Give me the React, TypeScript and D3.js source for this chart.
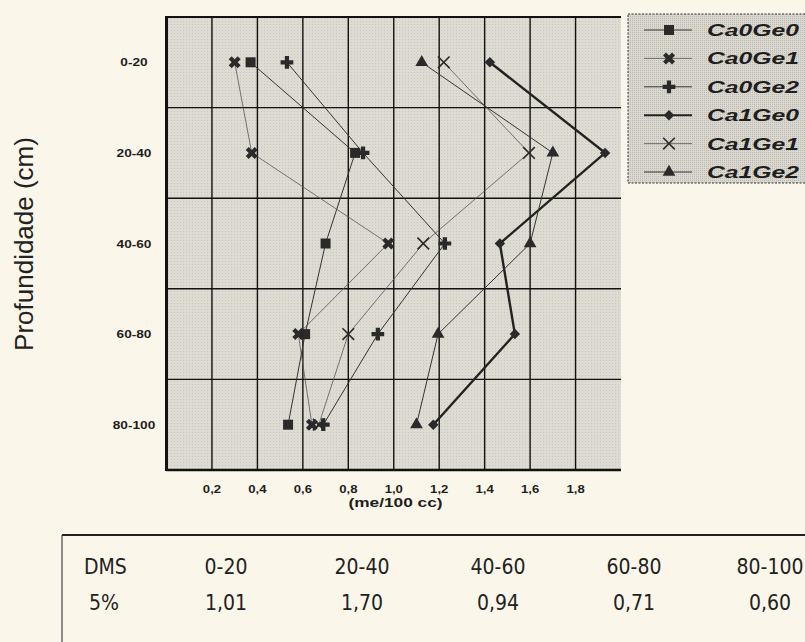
import React from 'react'
import * as d3 from 'd3'

const depths = ['0-20', '20-40', '40-60', '60-80', '80-100']
const xTicks = [0.2, 0.4, 0.6, 0.8, 1.0, 1.2, 1.4, 1.6, 1.8]

const ca0ge0 = [0.37, 0.83, 0.7, 0.61, 0.535]
const ca0ge1 = [0.3, 0.375, 0.976, 0.58, 0.64]
const ca0ge2 = [0.53, 0.865, 1.225, 0.93, 0.69]
const ca1ge0 = [1.423, 1.93, 1.467, 1.533, 1.174]
const ca1ge1 = [1.22, 1.595, 1.13, 0.8, 0.67]
const ca1ge2 = [1.123, 1.7, 1.6, 1.195, 1.1]

const dmsLabels = ['0-20', '20-40', '40-60', '60-80', '80-100']
const dmsValues = ['1,01', '1,70', '0,94', '0,71', '0,60']

const series = [
  { name: 'Ca0Ge0', values: ca0ge0, symbol: 'square', width: 1, color: '#333' },
  { name: 'Ca0Ge1', values: ca0ge1, symbol: 'boldx', width: 0.8, color: '#555' },
  { name: 'Ca0Ge2', values: ca0ge2, symbol: 'plus', width: 1, color: '#333' },
  { name: 'Ca1Ge0', values: ca1ge0, symbol: 'diamond', width: 2.4, color: '#222' },
  { name: 'Ca1Ge1', values: ca1ge1, symbol: 'thinx', width: 0.8, color: '#555' },
  { name: 'Ca1Ge2', values: ca1ge2, symbol: 'triangle', width: 1, color: '#333' },
]

const W = 805
const H = 642
const left = 166.5
const right = 621
const top = 17
const bottom = 470

const sansBold = 'Liberation Sans, Arial, sans-serif'
const narrow = 'Liberation Sans Narrow, DejaVu Sans Condensed, Liberation Sans, sans-serif'

function Marker({ kind, x, y }: { kind: string; x: number; y: number }) {
  const fill = '#2a2a2a'
  if (kind === 'square') {
    return <path d={d3.symbol(d3.symbolSquare, 100)()!} transform={`translate(${x},${y})`} fill={fill} />
  }
  if (kind === 'boldx') {
    return <path d={d3.symbol(d3.symbolCross, 90)()!} transform={`translate(${x},${y}) rotate(45)`} fill={fill} />
  }
  if (kind === 'plus') {
    return <path d={d3.symbol(d3.symbolCross, 90)()!} transform={`translate(${x},${y})`} fill={fill} />
  }
  if (kind === 'diamond') {
    return <path d={d3.symbol(d3.symbolSquare, 55)()!} transform={`translate(${x},${y}) rotate(45)`} fill={fill} />
  }
  if (kind === 'triangle') {
    return <path d={d3.symbol(d3.symbolTriangle, 70)()!} transform={`translate(${x},${y})`} fill={fill} />
  }
  return (
    <path d={d3.symbol(d3.symbolTimes, 90)()!} transform={`translate(${x},${y})`}
      fill="none" stroke={fill} strokeWidth={1.6} />
  )
}

// the scan is stretched sideways, so bold labels get a horizontal scale
function Wide({ x, y, sx, size, children, italic }: any) {
  return (
    <text transform={`translate(${x},${y}) scale(${sx},1)`} textAnchor="middle" fontFamily={sansBold}
      fontWeight="bold" fontStyle={italic ? 'italic' : 'normal'} fontSize={size} fill="#1e1e1e">{children}</text>
  )
}

export default function App() {
  const x = d3.scaleLinear().domain([0, 2]).range([left, right])
  const y = d3.scaleBand().domain(depths).range([top, bottom])
  const yc = (d: string) => (y(d) as number) + y.bandwidth() / 2
  const line = d3.line<number>().x(v => x(v)).y((_, i) => yc(depths[i]))

  const legX = 628
  const legY = 14
  const legRow = 28.4

  const colX = d3.scalePoint().domain(dmsLabels).range([226, 770])

  return (
    <div style={{ position: 'absolute', left: 0, top: 0 }}>
      <svg width={W} height={H} style={{ display: 'block' }}>
        <defs>
          <pattern id="stip" width="3" height="3" patternUnits="userSpaceOnUse">
            <rect width="3" height="3" fill="#dedbd2" />
            <rect width="1" height="1" fill="#c9c6bd" />
          </pattern>
          <pattern id="stip2" width="2" height="2" patternUnits="userSpaceOnUse">
            <rect width="2" height="2" fill="#dad7cf" />
            <rect width="1" height="1" fill="#bdbab2" />
          </pattern>
        </defs>
        <rect width={W} height={H} fill="#fbf6ea" />

        {/* plot area */}
        <rect x={left} y={top} width={right - left} height={bottom - top} fill="url(#stip)" />
        {xTicks.map(t => (
          <line key={t} x1={x(t)} x2={x(t)} y1={top} y2={bottom} stroke="#111" strokeWidth={1.4} />
        ))}
        {depths.slice(1).map(d => (
          <line key={d} x1={left} x2={right} y1={y(d)} y2={y(d)} stroke="#111" strokeWidth={1.4} />
        ))}
        <line x1={left} x2={right} y1={top} y2={top} stroke="#111" strokeWidth={2} />
        <line x1={left} x2={right} y1={bottom} y2={bottom} stroke="#111" strokeWidth={2.5} />
        <line x1={left} x2={left} y1={top - 1} y2={bottom + 1} stroke="#111" strokeWidth={3} />

        {series.map(s => (
          <path key={s.name} d={line(s.values)!} fill="none" stroke={s.color} strokeWidth={s.width} />
        ))}
        {series.map(s =>
          s.values.map((v, i) => <Marker key={s.name + i} kind={s.symbol} x={x(v)} y={yc(depths[i])} />)
        )}

        {/* axes text */}
        {xTicks.map(t => (
          <Wide key={t} x={x(t)} y={492.5} sx={1.25} size={10.5}>{d3.format('.1f')(t).replace('.', ',')}</Wide>
        ))}
        <Wide x={395.5} y={507} sx={1.33} size={13}>(me/100 cc)</Wide>
        {depths.map(d => (
          <Wide key={d} x={134} y={yc(d) + 4} sx={1.3} size={10.5}>{d}</Wide>
        ))}
        <text transform={`translate(33,244) rotate(-90)`} textAnchor="middle" fontFamily={sansBold}
          fontSize={26} fill="#222">Profundidade (cm)</text>

        {/* legend */}
        <rect x={legX} y={legY} width={W - legX + 2} height={169} fill="url(#stip2)" stroke="#333"
          strokeWidth={1} strokeDasharray="2,1.5" />
        {series.map((s, i) => {
          const ry = legY + 16 + i * legRow
          return (
            <g key={s.name}>
              <line x1={644} x2={692} y1={ry} y2={ry} stroke={s.color} strokeWidth={s.width === 2.4 ? 2 : s.width} />
              <Marker kind={s.symbol} x={669} y={ry} />
              <text x={707} y={ry + 6} fontFamily={sansBold} fontWeight="bold" fontStyle="italic"
                fontSize={17} fill="#1e1e1e" textLength={92} lengthAdjust="spacingAndGlyphs">{s.name}</text>
            </g>
          )
        })}

        {/* DMS table */}
        <line x1={62} x2={W} y1={535} y2={535} stroke="#222" strokeWidth={2} />
        <line x1={62} x2={62} y1={535} y2={H} stroke="#444" strokeWidth={1.2} />
        <text x={84} y={574} fontFamily={narrow} fontSize={21} fill="#222">DMS</text>
        <text x={89} y={610} fontFamily={narrow} fontSize={21} fill="#222">5%</text>
        {dmsLabels.map((d, i) => (
          <g key={d}>
            <text x={colX(d)} y={574} textAnchor="middle" fontFamily={narrow} fontSize={21} fill="#222">{d}</text>
            <text x={colX(d)} y={610} textAnchor="middle" fontFamily={narrow} fontSize={21} fill="#222">{dmsValues[i]}</text>
          </g>
        ))}
      </svg>
    </div>
  )
}
